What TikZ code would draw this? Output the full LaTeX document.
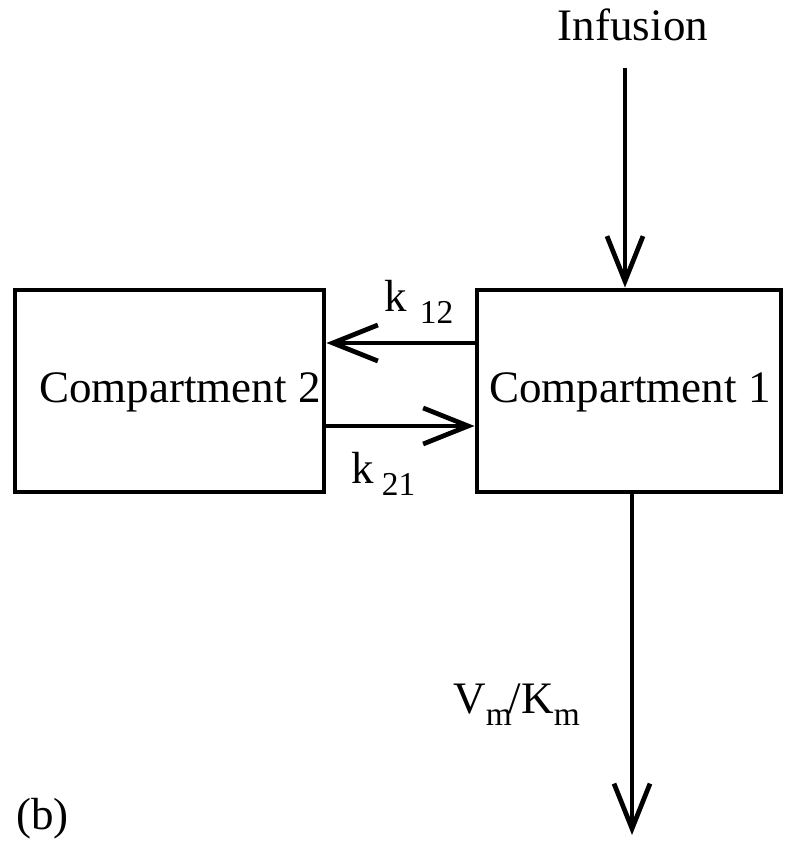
\documentclass[tikz,border=0pt]{standalone}
\usepackage{fontspec}
\setmainfont{Liberation Serif}
\usetikzlibrary{arrows.meta}
\newcommand\mainsz{\fontsize{12.8}{14}\selectfont}
\newcommand\subsz{\fontsize{9.5}{11}\selectfont}
\begin{document}
\begin{tikzpicture}[x=0.01cm,y=-0.01cm,
  line width=1.35pt,
  box/.style={draw, rectangle, inner sep=0pt, minimum height=2.02cm},
  lbl/.style={inner sep=0pt, font=\mainsz},
  arr/.style={-{Straight Barb[length=0.45cm,width=0.36cm]}}]
\useasboundingbox (0,0) rectangle (800,849);
% boxes
\node[box, minimum width=3.09cm] (c2) at (169.5,391) {};
\node[box, minimum width=3.04cm] (c1) at (629,391) {};
\node[lbl, anchor=base] (t2) at (180,402) {Compartment 2};
\node[lbl, anchor=base] (t1) at (630,402) {Compartment 1};
% infusion
\node[lbl, anchor=base] (inf) at (633,41) {Infusion};
\coordinate (infs) at (625,68);
\draw[arr] (infs) -- (infs |- c1.north);
% exchange arrows
\coordinate (y12) at (0,343);
\coordinate (y21) at (0,426);
\draw[arr] (c1.west |- y12) -- (c2.east |- y12);
\draw[arr] (c2.east |- y21) -- (c1.west |- y21);
\node[lbl, anchor=base west] (k12) at (382,311) {k\kern0.13cm\raisebox{-0.12cm}{\subsz 12}};
\node[lbl, anchor=base west] (k21) at (349,483) {k\kern0.08cm\raisebox{-0.12cm}{\subsz 21}};
% elimination
\coordinate (vend) at (632,835);
\draw[arr] (vend |- c1.south) -- (vend);
\node[lbl, anchor=base west] (vm) at (451,713) {V\raisebox{-0.12cm}{\subsz m}\kern-0.03cm/K\raisebox{-0.12cm}{\subsz m}};
% panel label
\node[lbl, anchor=base west] (pb) at (14,829) {(b)};
\end{tikzpicture}
\end{document}
